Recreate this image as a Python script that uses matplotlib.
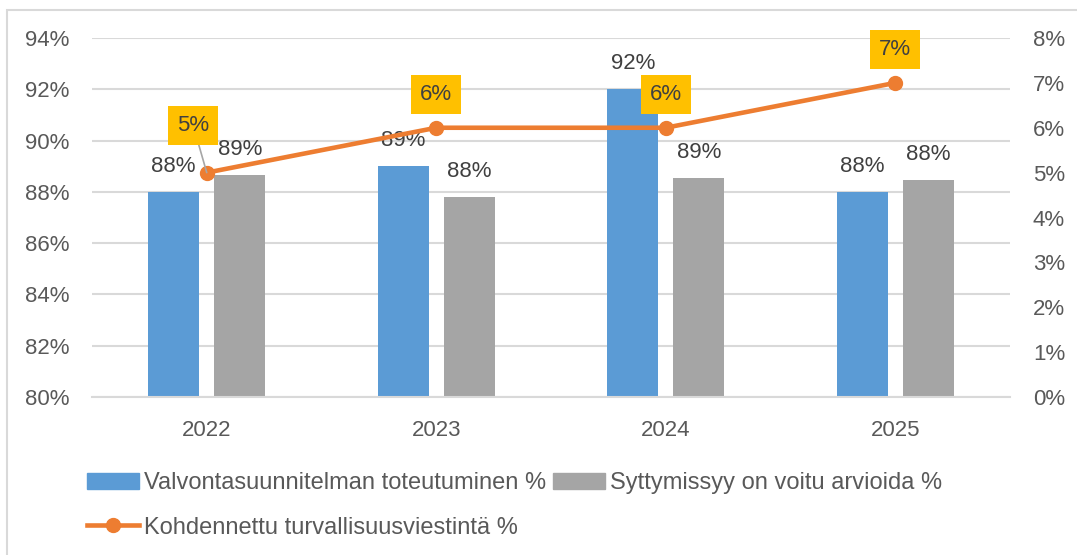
import numpy as np
import matplotlib
matplotlib.use("Agg")
import matplotlib.pyplot as plt
from matplotlib.patches import Rectangle, Patch
from matplotlib.lines import Line2D
from matplotlib.ticker import FuncFormatter

plt.rcParams['font.family'] = ['Liberation Sans', 'DejaVu Sans']

# Data
years = ['2022', '2023', '2024', '2025']
valvonta = [88.0, 89.0, 92.0, 88.0]
syttymis = [88.65, 87.8, 88.55, 88.45]
viestinta = [5.0, 6.0, 6.0, 7.0]

valvonta_labels = ['88%', '89%', '92%', '88%']
syttymis_labels = ['89%', '88%', '89%', '88%']
viestinta_labels = ['5%', '6%', '6%', '7%']

blue = '#5B9BD5'
gray = '#A5A5A5'
orange = '#ED7D31'
yellow = '#FFC000'
grid_c = '#D9D9D9'
tick_c = '#595959'
lab_c = '#404040'
fs = 16

W, H = 1077, 555
fig = plt.figure(figsize=(W / 100, H / 100), dpi=100)
ax = fig.add_axes([92 / W, 1 - 397 / H, (1010 - 92) / W, (397 - 38) / H])
ax2 = ax.twinx()

x = np.arange(len(years))
bw = 0.222
off = 0.144

ax.bar(x - off, valvonta, bw, color=blue, zorder=2)
ax.bar(x + off, syttymis, bw, color=gray, zorder=2)

ax.set_ylim(80, 94)
ax.set_yticks(np.arange(80, 95, 2))
ax.yaxis.set_major_formatter(FuncFormatter(lambda v, p: f'{v:.0f}%'))
ax.set_xlim(-0.5, 3.5)
ax.set_xticks(x)
ax.set_xticklabels(years)
ax.grid(axis='y', color=grid_c, lw=1.5, zorder=0)
ax.set_axisbelow(True)
for s in ['top', 'left', 'right']:
    ax.spines[s].set_visible(False)
ax.spines['bottom'].set_color(grid_c)
ax.spines['bottom'].set_linewidth(1.5)
ax.tick_params(axis='both', length=0, labelsize=fs, colors=tick_c)
ax.tick_params(axis='x', pad=16.5)
ax.tick_params(axis='y', pad=16.5)

for xi, v, t in zip(x - off, valvonta, valvonta_labels):
    ax.annotate(t, (xi, v), xytext=(0, 18.5), textcoords='offset points',
                ha='center', va='center', fontsize=fs, color=lab_c)
for xi, v, t in zip(x + off, syttymis, syttymis_labels):
    ax.annotate(t, (xi, v), xytext=(0, 18.5), textcoords='offset points',
                ha='center', va='center', fontsize=fs, color=lab_c)

ax2.plot(x, viestinta, color=orange, lw=3.3, marker='o', markersize=10, zorder=3)
ax2.set_ylim(0, 8)
ax2.set_yticks(np.arange(0, 9, 1))
ax2.yaxis.set_major_formatter(FuncFormatter(lambda v, p: f'{v:.0f}%'))
for s in ax2.spines.values():
    s.set_visible(False)
ax2.tick_params(axis='y', length=0, labelsize=fs, colors=tick_c, pad=16.5)

offsets = [(-9.7, 33.8), (0, 23.8), (0, 23.8), (0, 23.8)]
for xi, v, t, o in zip(x, viestinta, viestinta_labels, offsets):
    kw = {}
    if o[0] != 0:
        kw['arrowprops'] = dict(arrowstyle='-', color='#A6A6A6', lw=1.2,
                                shrinkA=0, shrinkB=0)
    ax2.annotate(t, (xi, v), xytext=o, textcoords='offset points',
                 ha='center', va='center', fontsize=fs, color=lab_c,
                 bbox=dict(boxstyle='square,pad=0.4', fc=yellow, ec='none'),
                 zorder=5, **kw)

# Legend
handles = [Patch(color=blue, label='Valvontasuunnitelman toteutuminen %'),
           Line2D([], [], color=orange, lw=3.3, marker='o', markersize=10,
                  label='Kohdennettu turvallisuusviestintä %'),
           Patch(color=gray, label='Syttymissyy on voitu arvioida %')]
fig.legend(handles=handles, ncol=2, loc='upper left',
           bbox_to_anchor=(66 / W, 1 - 451 / H), frameon=False,
           fontsize=17, labelcolor=tick_c, handlelength=2.2, handleheight=0.7,
           handletextpad=0.2, columnspacing=0.3, labelspacing=0.95)

# chart border
fig.add_artist(Rectangle((7 / W, -0.1), 1.2, 1 - 10 / H + 0.1,
                         transform=fig.transFigure, fill=False,
                         ec=grid_c, lw=1.5))

fig.savefig('out.png', dpi=100)
